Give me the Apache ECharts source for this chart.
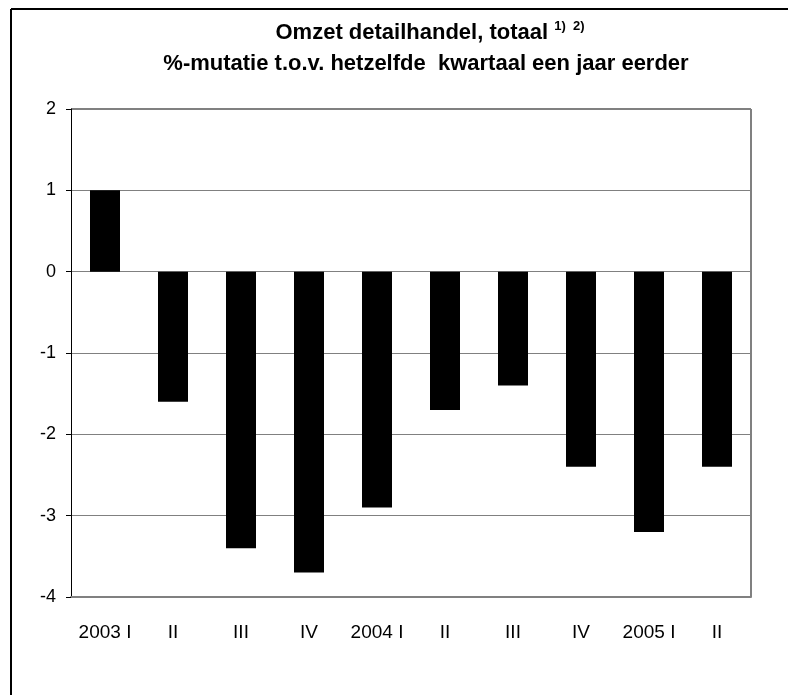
<!DOCTYPE html>
<html>
<head>
<meta charset="utf-8">
<script src="https://cdn.jsdelivr.net/npm/echarts@6/dist/echarts.min.js"></script>
<style>
  html, body { margin: 0; padding: 0; background: #fff; }
  #chart { width: 788px; height: 695px; }
</style>
</head>
<body>
<div id="chart"></div>
<script>
// kwartalen
const categories = ["2003 I", "II", "III", "IV", "2004 I", "II", "III", "IV", "2005 I", "II"];
// %-mutatie t.o.v. zelfde kwartaal jaar eerder
const values = [1.0, -1.6, -3.4, -3.7, -2.9, -1.7, -1.4, -2.4, -3.2, -2.4];
const yMin = -4, yMax = 2, yStep = 1;

const font = "'Liberation Sans', Arial, sans-serif";
const chart = echarts.init(document.getElementById("chart"));

chart.setOption({
  animation: false,
  textStyle: { fontFamily: font },
  title: [
    {
      text: "{m|Omzet detailhandel, totaal }{s|1)  2)}",
      left: 425,
      top: 15,
      textAlign: "center",
      textStyle: {
        rich: {
          m: { fontFamily: font, fontSize: 22, fontWeight: "bold", color: "#000" },
          s: { fontFamily: font, fontSize: 13, fontWeight: "bold", color: "#000", verticalAlign: "top", padding: [0, 0, 12, 0] }
        }
      }
    },
    {
      text: "%-mutatie t.o.v. hetzelfde  kwartaal een jaar eerder",
      left: 421,
      top: 48,
      textAlign: "center",
      textStyle: { fontFamily: font, fontSize: 22, fontWeight: "bold", color: "#000" }
    }
  ],
  graphic: [
    { type: "line", shape: { x1: 11, y1: 9, x2: 788, y2: 9 }, style: { stroke: "#000", lineWidth: 2 } },
    { type: "line", shape: { x1: 11, y1: 9, x2: 11, y2: 695 }, style: { stroke: "#000", lineWidth: 2 } },
    { type: "line", shape: { x1: 71, y1: 109, x2: 751, y2: 109 }, style: { stroke: "#808080", lineWidth: 2 } },
    { type: "line", shape: { x1: 751, y1: 109, x2: 751, y2: 597 }, style: { stroke: "#808080", lineWidth: 2 } }
  ],
  grid: { left: 71, top: 109, right: 37, bottom: 98, containLabel: false },
  xAxis: {
    type: "category",
    data: categories,
    position: "bottom",
    axisLine: { onZero: false, lineStyle: { color: "#808080", width: 2 } },
    axisTick: { show: false },
    axisLabel: { color: "#000", fontSize: 19, fontFamily: font, margin: 26, interval: 0 }
  },
  yAxis: {
    type: "value",
    min: yMin,
    max: yMax,
    interval: yStep,
    axisLine: { show: true, lineStyle: { color: "#000", width: 1 } },
    axisTick: { show: true, length: 5, lineStyle: { color: "#000" } },
    axisLabel: { color: "#000", fontSize: 18, fontFamily: font, margin: 15 },
    splitLine: { lineStyle: { color: "#808080", width: 1 } }
  },
  series: [
    {
      type: "bar",
      data: values,
      barWidth: 30,
      itemStyle: { color: "#000" }
    }
  ]
});
</script>
</body>
</html>
